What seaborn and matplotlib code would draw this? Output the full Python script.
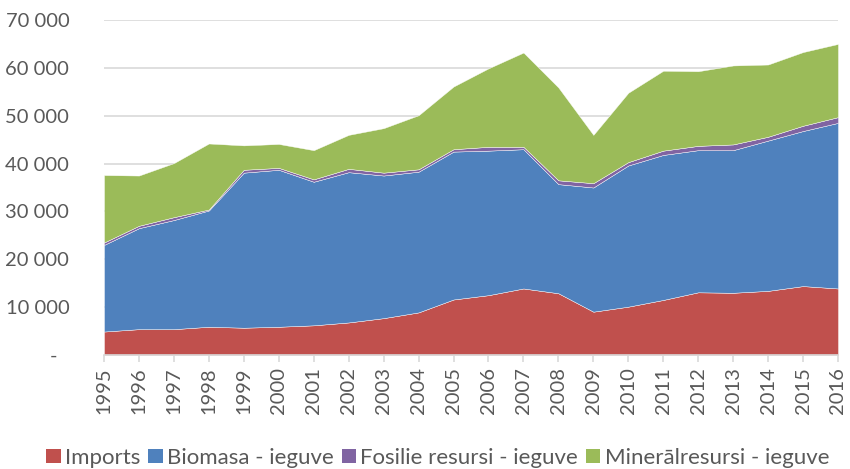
import numpy as np
import pandas as pd
import matplotlib
matplotlib.use('Agg')
import matplotlib.pyplot as plt
import seaborn as sns
from matplotlib.ticker import FuncFormatter
from matplotlib.patches import Patch

# Dati (nolasīti no attēla)
gadi = list(range(1995, 2017))
imports = [4900, 5400, 5400, 5900, 5700, 5900, 6200, 6800, 7700, 8900, 11600,
           12500, 13900, 12900, 9050, 10100, 11500, 13100, 13000, 13400, 14400, 13900]
biomasa = [18100, 21100, 22800, 24300, 32400, 32800, 30000, 31400, 29800, 29400, 30900,
           30200, 29100, 22800, 25950, 29500, 30300, 29700, 29800, 31400, 32400, 34600]
fosilie = [500, 500, 600, 200, 600, 400, 500, 700, 600, 500, 500,
           800, 500, 800, 900, 700, 900, 900, 1200, 800, 1100, 1200]
minerali = [14100, 10500, 11300, 13800, 5100, 5000, 6100, 7100, 9300, 11300, 13100,
            16400, 19700, 19400, 10100, 14500, 16700, 15600, 16500, 15100, 15400, 15300]

nosaukumi = ['Imports', 'Biomasa - ieguve', 'Fosilie resursi - ieguve', 'Minerālresursi - ieguve']
krasas = ['#C0504D', '#4F81BD', '#8064A2', '#9BBB59']

df = pd.DataFrame({'Gads': gadi, nosaukumi[0]: imports, nosaukumi[1]: biomasa,
                   nosaukumi[2]: fosilie, nosaukumi[3]: minerali})

sns.set_theme(style='white')
plt.rcParams['font.family'] = ['Lato', 'DejaVu Sans']
teksts = '#595959'

fig = plt.figure(figsize=(8.5, 4.69), dpi=100)
ax = fig.add_axes([104 / 850, 1 - 355 / 469, 734 / 850, 335 / 469])

ax.stackplot(df['Gads'], [df[n] for n in nosaukumi], colors=krasas,
             edgecolor='white', linewidth=0.3)

ax.set_xlim(1995, 2016)
ax.set_ylim(0, 70000)
ax.set_yticks(range(0, 70001, 10000))
# Excel grāmatvedības formāts: nulle kā "-" ar atkāpi
ax.yaxis.set_major_formatter(FuncFormatter(
    lambda v, p: '-\u2007' if v == 0 else f'{int(v):,}'.replace(',', ' ')))
ax.set_xticks(gadi)
ax.set_xticklabels([str(g) for g in gadi], rotation=90)

ax.grid(axis='y', color='#D9D9D9', linewidth=1.2)
ax.set_axisbelow(True)
for s in ['top', 'right', 'left']:
    ax.spines[s].set_visible(False)
ax.spines['bottom'].set_color('#D9D9D9')
ax.spines['bottom'].set_linewidth(1.2)
ax.tick_params(axis='x', bottom=True, length=5, color='#D9D9D9', width=1.2,
               labelsize=14.5, labelcolor=teksts, pad=4)
ax.tick_params(axis='y', left=False, labelsize=14.5, labelcolor=teksts, pad=19)
ax.set_xlabel('')
ax.set_ylabel('')

roki = [Patch(facecolor=c, edgecolor='none') for c in krasas]
fig.legend(roki, nosaukumi, loc='lower center', bbox_to_anchor=(0.515, -0.04),
           ncol=4, frameon=False, fontsize=16, labelcolor=teksts,
           handlelength=0.65, handleheight=0.65, handletextpad=0.2, columnspacing=0.35)

fig.savefig('out.png', dpi=100)
